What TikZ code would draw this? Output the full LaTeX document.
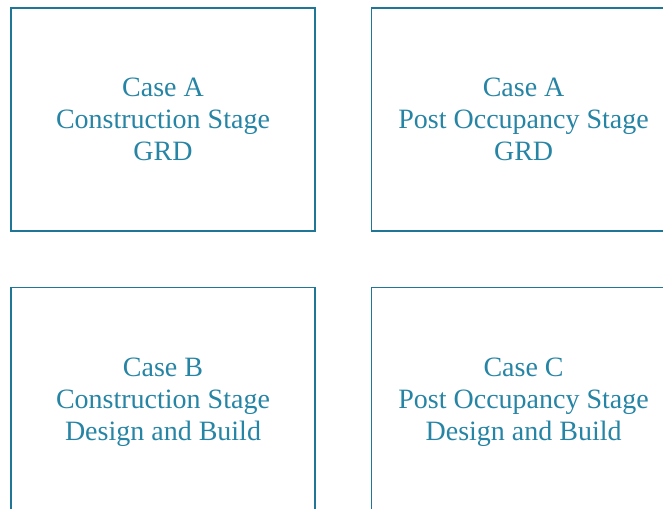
\documentclass[tikz,border=0pt]{standalone}
\usepackage{fontspec}
\setmainfont{Liberation Serif}
\usepackage{tikz}
\usetikzlibrary{positioning}
\definecolor{caseline}{RGB}{31,118,150}
\definecolor{casetext}{RGB}{38,132,164}

\begin{document}
\begin{tikzpicture}[
	x=1pt, y=1pt,
	casenode/.style={rectangle, draw=caseline, line width=1.6pt, minimum width=304pt, minimum height=223pt, align=center, text=casetext, font=\fontsize{28}{32}\selectfont},
	lownode/.style={casenode, minimum height=230pt},
	]
	\useasboundingbox (0,0) rectangle (663,-508);
	\clip (0,0) rectangle (663,-508);
	
	%Nodes
	\node[casenode] (CaseAcon) at (163,-119.5) {Case A\\Construction Stage\\GRD};
	\node[casenode] (CaseApost) [right=55pt of CaseAcon] {Case A\\Post Occupancy Stage\\GRD};
	\node[lownode] (CaseBcon) [below=55pt of CaseAcon] {Case B\\Construction Stage\\Design and Build};
	\node[lownode] (CaseCpost) [below=55pt of CaseApost] {Case C\\Post Occupancy Stage\\Design and Build};
	
\end{tikzpicture}
\end{document}
